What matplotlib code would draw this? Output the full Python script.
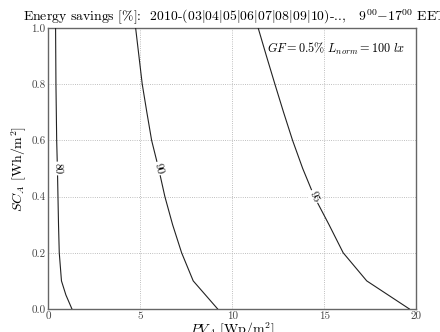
import matplotlib
matplotlib.use("Agg")
import matplotlib.pyplot as plt
import numpy as np

plt.rcParams["font.family"] = ["cmr10", "DejaVu Serif"]
plt.rcParams["mathtext.fontset"] = "cm"
plt.rcParams["axes.formatter.use_mathtext"] = True

# contour levels of energy savings (x = PV_A, y = SC_A)
sc_80 = [0.0, 0.05, 0.1, 0.2, 0.3, 0.4, 0.5, 0.6, 0.7, 0.8, 0.9, 1.0]
pv_80 = [1.28, 0.95, 0.71, 0.59, 0.55, 0.52, 0.49, 0.45, 0.43, 0.41, 0.40, 0.39]

sc_90 = [0.0, 0.1, 0.2, 0.3, 0.4, 0.5, 0.6, 0.7, 0.8, 0.9, 1.0]
pv_90 = [9.2, 7.87, 7.24, 6.75, 6.33, 5.99, 5.61, 5.35, 5.10, 4.92, 4.74]

sc_95 = [0.0, 0.1, 0.2, 0.3, 0.4, 0.5, 0.6, 0.7, 0.8, 0.9, 1.0]
pv_95 = [19.62, 17.3, 16.02, 15.25, 14.45, 13.82, 13.27, 12.78, 12.31, 11.85, 11.40]

# label text, position and rotation
labels = ["80", "90", "95"]
label_pos = [(0.49, 0.50), (5.99, 0.50), (14.45, 0.40)]
label_rot = [-88, -76, -66]

fig = plt.figure(figsize=(4.4, 3.32), dpi=100)
ax = fig.add_axes([0.110, 0.0693, 0.8364, 0.8464])

for pv, sc in [(pv_80, sc_80), (pv_90, sc_90), (pv_95, sc_95)]:
    ax.plot(pv, sc, color="#222222", linewidth=0.8, zorder=3)

for txt, (px, py), rot in zip(labels, label_pos, label_rot):
    ax.text(px, py, txt, rotation=rot, ha="center", va="center", fontsize=8,
            rotation_mode="anchor", zorder=4,
            bbox=dict(facecolor="white", edgecolor="none", pad=1.0))

ax.set_xlim(0, 20)
ax.set_ylim(0, 1.0)
ax.set_xticks([0, 5, 10, 15, 20])
ax.set_yticks([0.0, 0.2, 0.4, 0.6, 0.8, 1.0])
ax.set_xticklabels(["0", "5", "10", "15", "20"])
ax.set_yticklabels(["0.0", "0.2", "0.4", "0.6", "0.8", "1.0"])
ax.tick_params(direction="in", length=0, labelsize=8, pad=2, colors="#444444")
ax.grid(True, linestyle=":", color="#aaaaaa", linewidth=0.6)
for s in ax.spines.values():
    s.set_color("#666666")
    s.set_linewidth(1.0)

ax.set_xlabel(r"$PV_A$ [Wp/m$^2$]", fontsize=10, labelpad=0)
ax.set_ylabel(r"$SC_A$ [Wh/m$^2$]", fontsize=10, labelpad=2)
ax.set_title(r"Energy savings [%]:  2010-(03$|$04$|$05$|$06$|$07$|$08$|$09$|$10)-..,   $9^{00}$$-$$17^{00}$ EET",
             fontsize=9.9, pad=5, x=0.506)

ax.text(0.97, 0.955, r"$GF = 0.5\%\ L_{norm} = 100\ lx$", transform=ax.transAxes,
        ha="right", va="top", fontsize=8.8)

fig.savefig("out.png", dpi=100)
